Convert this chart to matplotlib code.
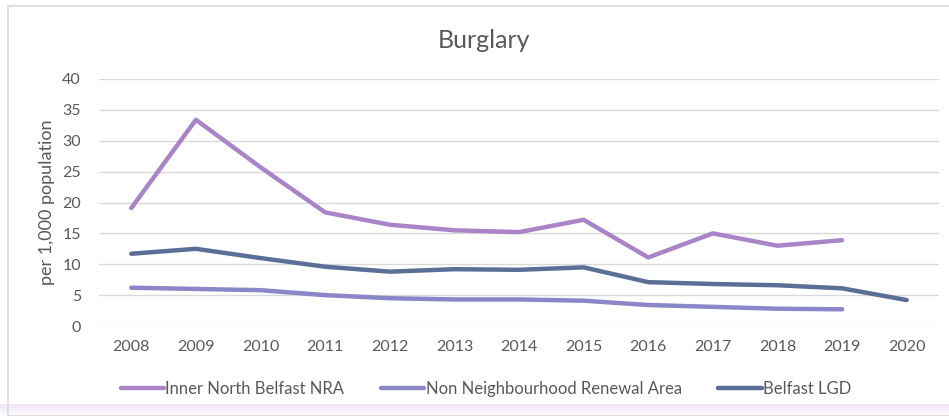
import numpy as np
import matplotlib.pyplot as plt
from matplotlib.patches import Rectangle
from matplotlib.colors import LinearSegmentedColormap

plt.rcParams['font.family'] = ['Lato', 'DejaVu Sans']

years = ['2008', '2009', '2010', '2011', '2012', '2013', '2014',
         '2015', '2016', '2017', '2018', '2019', '2020']

inner_north = [19.1, 33.4, 25.7, 18.4, 16.4, 15.5, 15.2, 17.2, 11.1, 15.0, 13.0, 13.9]
non_nra = [6.2, 6.0, 5.8, 5.0, 4.5, 4.3, 4.3, 4.1, 3.4, 3.1, 2.8, 2.7]
belfast_lgd = [11.7, 12.5, 11.0, 9.6, 8.8, 9.2, 9.1, 9.5, 7.1, 6.8, 6.6, 6.1, 4.2]

series = [
    ('Inner North Belfast NRA', inner_north, '#A985C8'),
    ('Non Neighbourhood Renewal Area', non_nra, '#8B86C8'),
    ('Belfast LGD', belfast_lgd, '#5B6F96'),
]

txt = '#595959'
W, H = 949, 416
fig = plt.figure(figsize=(W / 100, H / 100), dpi=100)

# chart frame and the faint tint along the bottom edge
fig.patches.append(Rectangle((8 / W, 0), 1, 1 - 6 / H, transform=fig.transFigure,
                             fill=False, edgecolor='#D9D9D9', linewidth=1.2))
bg = fig.add_axes([0, 0, 1, 12 / H], zorder=-1)
grad = np.linspace(1, 0, 50).reshape(-1, 1)
bg.imshow(grad, aspect='auto', extent=[0, 1, 0, 1],
          cmap=LinearSegmentedColormap.from_list('tint', ['#FFFFFF', '#EEE4F4']))
bg.axis('off')

ax = fig.add_axes([99 / W, 1 - 326 / H, 840 / W, 247 / H])
x = np.arange(len(years))
for name, vals, col in series:
    ax.plot(x[:len(vals)], vals, color=col, linewidth=3.2, label=name,
            solid_capstyle='round', solid_joinstyle='round')

ax.set_xlim(-0.5, len(years) - 0.5)
ax.set_ylim(0, 40)
ax.set_yticks(range(0, 41, 5))
ax.set_xticks(x)
ax.set_xticklabels(years)
ax.grid(axis='y', color='#D9D9D9', linewidth=1)
ax.set_axisbelow(True)
for s in ax.spines.values():
    s.set_visible(False)
ax.tick_params(length=0, colors=txt, labelsize=11.5)
ax.tick_params(axis='x', pad=10)
ax.tick_params(axis='y', pad=13)
ax.set_ylabel('per 1,000 population', color=txt, fontsize=13, labelpad=5)

fig.text(484 / W, 1 - 41 / H, 'Burglary', ha='center', va='center',
         color=txt, fontsize=18)

leg = fig.legend(loc='center', bbox_to_anchor=(486 / W, 1 - 389 / H), ncol=3,
                 frameon=False, fontsize=12, handlelength=2.6, handletextpad=0.08,
                 columnspacing=2.2)
for t in leg.get_texts():
    t.set_color(txt)

fig.savefig('out.png', dpi=100)
